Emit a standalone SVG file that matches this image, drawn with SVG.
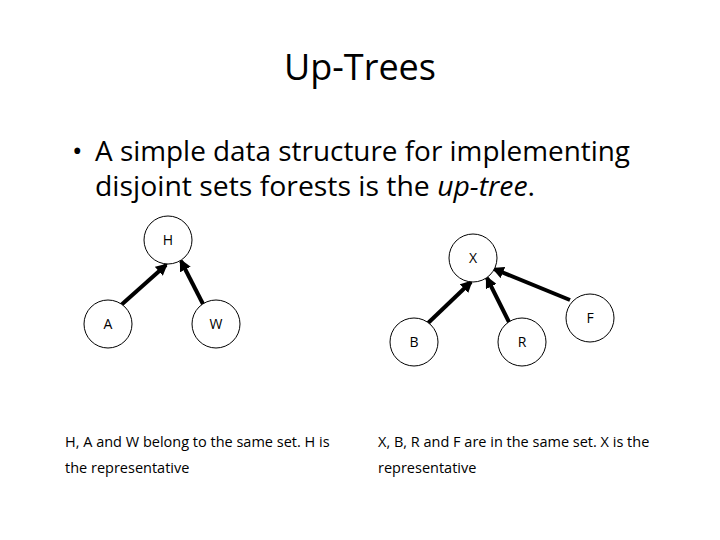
<svg xmlns="http://www.w3.org/2000/svg" width="720" height="540" viewBox="0 0 720 540">
<style>
text{font-family:"Open Sans","Liberation Sans",sans-serif;fill:#000}
.n circle{fill:#fff;stroke:#000;stroke-width:1}
.n text{font-size:14px;text-anchor:middle}
.c line{stroke:#000;stroke-width:4;marker-end:url(#ah)}
.cap{font-size:14.5px}
</style>
<defs><marker id="ah" viewBox="0 0 10 10" refX="8" refY="5" markerWidth="3" markerHeight="3" orient="auto"><path d="M0,0L10,5L0,10z"/></marker></defs>
<rect width="720" height="540" fill="#fff"/>
<text x="360" y="80" font-size="36" text-anchor="middle">Up-Trees</text>
<text x="72" y="161" font-size="28">•</text>
<text x="95" y="161" font-size="28" textLength="535" lengthAdjust="spacingAndGlyphs">A simple data structure for implementing</text>
<text x="95" y="196" font-size="28" textLength="440" lengthAdjust="spacingAndGlyphs">disjoint sets forests is the <tspan font-style="italic">up-tree</tspan>.</text>
<g class="c">
<line x1="120" y1="306" x2="166" y2="265"/>
<line x1="204" y1="306" x2="181" y2="261"/>
<line x1="426" y1="325" x2="471" y2="282"/>
<line x1="510" y1="324" x2="487" y2="278"/>
<line x1="570" y1="300" x2="494" y2="269"/>
</g>
<g id="H" class="n"><circle cx="168" cy="240" r="24"/><text x="168" y="245">H</text></g>
<g id="A" class="n"><circle cx="108" cy="324" r="24"/><text x="108" y="329">A</text></g>
<g id="W" class="n"><circle cx="216" cy="324" r="24"/><text x="216" y="329">W</text></g>
<g id="X" class="n"><circle cx="473" cy="258" r="24"/><text x="473" y="263">X</text></g>
<g id="B" class="n"><circle cx="414" cy="342" r="24"/><text x="414" y="347">B</text></g>
<g id="R" class="n"><circle cx="522" cy="342" r="24"/><text x="522" y="347">R</text></g>
<g id="F" class="n"><circle cx="590" cy="318" r="24"/><text x="590" y="323">F</text></g>
<text class="cap" x="65" y="447">H, A and W belong to the same set. H is</text>
<text class="cap" x="65" y="473">the representative</text>
<text class="cap" x="378" y="447">X, B, R and F are in the same set. X is the</text>
<text class="cap" x="378" y="473">representative</text>
</svg>
